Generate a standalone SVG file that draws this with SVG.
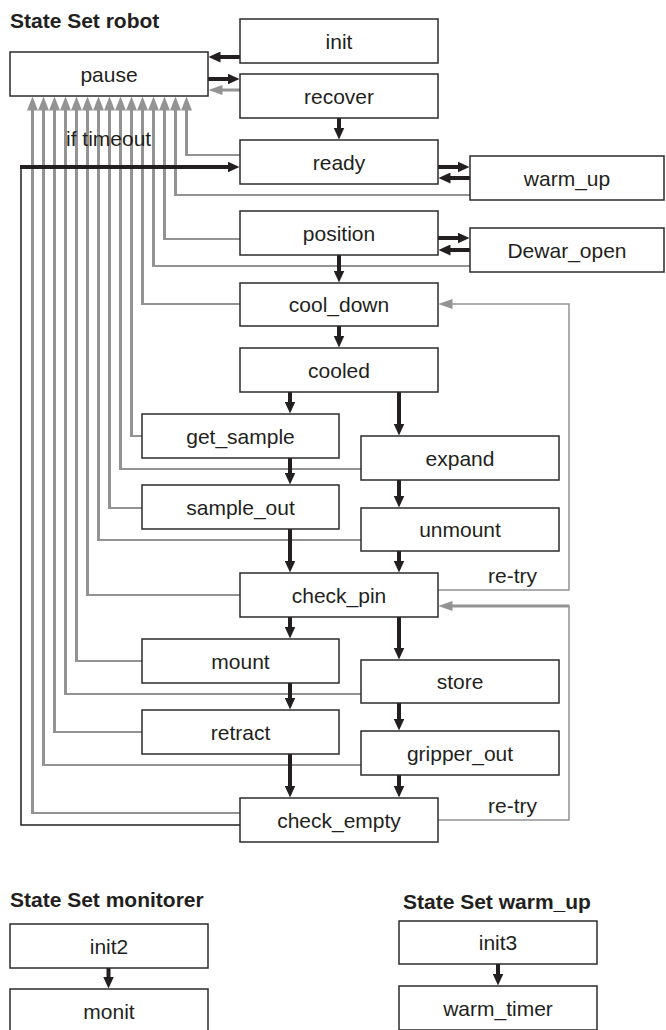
<svg xmlns="http://www.w3.org/2000/svg" width="666" height="1030" viewBox="0 0 666 1030">
<style>
.box{fill:#fff;stroke:#2b2b2b;stroke-width:1.5}
.t{font-family:"Liberation Sans",Arial,sans-serif;font-size:21px;fill:#231f20;text-anchor:middle}
.h{font-family:"Liberation Sans",Arial,sans-serif;font-size:21px;font-weight:bold;fill:#231f20}
.l{font-family:"Liberation Sans",Arial,sans-serif;font-size:21px;fill:#231f20}
.bk{fill:none;stroke:#231f20;stroke-width:4}
.bt{fill:none;stroke:#231f20;stroke-width:1.5}
.gv{fill:none;stroke:#939393;stroke-width:3}
.gh{fill:none;stroke:#939393;stroke-width:2}
</style>
<defs>
<marker id="ab" viewBox="0 0 12 11" refX="0.5" refY="5.5" markerWidth="12" markerHeight="11" markerUnits="userSpaceOnUse" orient="auto"><path d="M0,0 L12,5.5 L0,11 z" fill="#231f20"/></marker>
<marker id="ag" viewBox="0 0 14 10" refX="0.5" refY="5" markerWidth="14" markerHeight="10" markerUnits="userSpaceOnUse" orient="auto"><path d="M0,0 L14,5 L0,10 z" fill="#939393"/></marker>
<marker id="ap" viewBox="0 0 14 11" refX="0.5" refY="5.5" markerWidth="14" markerHeight="11" markerUnits="userSpaceOnUse" orient="auto"><path d="M0,0 L14,5.5 L0,11 z" fill="#939393"/></marker>
</defs>
<text class="h" x="10" y="28">State Set robot</text>
<text class="h" x="10" y="907">State Set monitorer</text>
<text class="h" x="403" y="909">State Set warm_up</text>
<g id="connectors">
<g id="to-pause">
<path class="gh" d="M240,155H186.5M470,195H175.5M240,239H164.5M470,266H153.5M240,304H142.5M142,436H131.5M361,469H120.5M142,508H109.5M361,540H98.5M240,595H87.5M142,661H76.5M361,694H65.5M142,732H54.5M361,765H43.5M240,813H32.5"/>
<path class="gv" marker-end="url(#ap)" d="M186.5,156V110"/>
<path class="gv" marker-end="url(#ap)" d="M175.5,196V110"/>
<path class="gv" marker-end="url(#ap)" d="M164.5,240V110"/>
<path class="gv" marker-end="url(#ap)" d="M153.5,267V110"/>
<path class="gv" marker-end="url(#ap)" d="M142.5,305V110"/>
<path class="gv" marker-end="url(#ap)" d="M131.5,437V110"/>
<path class="gv" marker-end="url(#ap)" d="M120.5,470V110"/>
<path class="gv" marker-end="url(#ap)" d="M109.5,509V110"/>
<path class="gv" marker-end="url(#ap)" d="M98.5,541V110"/>
<path class="gv" marker-end="url(#ap)" d="M87.5,596V110"/>
<path class="gv" marker-end="url(#ap)" d="M76.5,662V110"/>
<path class="gv" marker-end="url(#ap)" d="M65.5,695V110"/>
<path class="gv" marker-end="url(#ap)" d="M54.5,733V110"/>
<path class="gv" marker-end="url(#ap)" d="M43.5,766V110"/>
<path class="gv" marker-end="url(#ap)" d="M32.5,814V110"/>
</g>
<path class="bt" d="M240,825H21V167"/>
<path class="bk" marker-end="url(#ab)" d="M20,167H228"/>
<path class="bk" marker-end="url(#ab)" d="M240,57H220"/>
<path class="bk" marker-end="url(#ab)" d="M208,79H228"/>
<path class="gv" marker-end="url(#ag)" d="M240,90H222"/>
<path class="bk" marker-end="url(#ab)" d="M339,118V128"/>
<path class="bk" marker-end="url(#ab)" d="M438,167H458"/>
<path class="bk" marker-end="url(#ab)" d="M470,178H450"/>
<path class="bk" marker-end="url(#ab)" d="M438,238H458"/>
<path class="bk" marker-end="url(#ab)" d="M470,250H450"/>
<path class="bk" marker-end="url(#ab)" d="M339,255V271"/>
<path class="bk" marker-end="url(#ab)" d="M339,326V336"/>
<path class="bk" marker-end="url(#ab)" d="M290,392V402"/>
<path class="bk" marker-end="url(#ab)" d="M399,392V424"/>
<path class="bk" marker-end="url(#ab)" d="M290,458V473"/>
<path class="bk" marker-end="url(#ab)" d="M399,480V496"/>
<path class="bk" marker-end="url(#ab)" d="M290,529V561"/>
<path class="bk" marker-end="url(#ab)" d="M399,551V561"/>
<path class="bk" marker-end="url(#ab)" d="M290,617V627"/>
<path class="bk" marker-end="url(#ab)" d="M399,617V648"/>
<path class="bk" marker-end="url(#ab)" d="M290,683V698"/>
<path class="bk" marker-end="url(#ab)" d="M399,703V719"/>
<path class="bk" marker-end="url(#ab)" d="M290,754V786"/>
<path class="bk" marker-end="url(#ab)" d="M399,775V786"/>
<path class="gh" style="stroke-width:1.5" marker-end="url(#ag)" d="M438,590H569V304H452"/>
<path class="gh" style="stroke-width:1.5" d="M438,820H569V606"/>
<path class="gv" marker-end="url(#ag)" d="M569.5,606H452"/>
<path class="bk" marker-end="url(#ab)" d="M108.5,968V977"/>
<path class="bk" marker-end="url(#ab)" d="M498,964V974"/>
<text class="l" x="66" y="146">if timeout</text>
<text class="l" x="488" y="583">re-try</text>
<text class="l" x="488" y="813">re-try</text>
</g>
<g id="pause"><rect class="box" x="10" y="52" width="198" height="44"/><text class="t" x="109" y="81.5">pause</text></g>
<g id="init"><rect class="box" x="240" y="19" width="198" height="44"/><text class="t" x="339" y="48.5">init</text></g>
<g id="recover"><rect class="box" x="240" y="74" width="198" height="44"/><text class="t" x="339" y="103.5">recover</text></g>
<g id="ready"><rect class="box" x="240" y="140" width="198" height="44"/><text class="t" x="339" y="169.5">ready</text></g>
<g id="warm_up"><rect class="box" x="470" y="156" width="194" height="44"/><text class="t" x="567" y="185.5">warm_up</text></g>
<g id="position"><rect class="box" x="240" y="211" width="198" height="44"/><text class="t" x="339" y="240.5">position</text></g>
<g id="Dewar_open"><rect class="box" x="470" y="228" width="194" height="44"/><text class="t" x="567" y="257.5">Dewar_open</text></g>
<g id="cool_down"><rect class="box" x="240" y="283" width="198" height="43"/><text class="t" x="339" y="312">cool_down</text></g>
<g id="cooled"><rect class="box" x="240" y="348" width="198" height="44"/><text class="t" x="339" y="377.5">cooled</text></g>
<g id="get_sample"><rect class="box" x="142" y="414" width="197" height="44"/><text class="t" x="240.5" y="443.5">get_sample</text></g>
<g id="expand"><rect class="box" x="361" y="436" width="198" height="44"/><text class="t" x="460" y="465.5">expand</text></g>
<g id="sample_out"><rect class="box" x="142" y="485" width="197" height="44"/><text class="t" x="240.5" y="514.5">sample_out</text></g>
<g id="unmount"><rect class="box" x="361" y="508" width="198" height="43"/><text class="t" x="460" y="537">unmount</text></g>
<g id="check_pin"><rect class="box" x="240" y="573" width="198" height="44"/><text class="t" x="339" y="602.5">check_pin</text></g>
<g id="mount"><rect class="box" x="142" y="639" width="197" height="44"/><text class="t" x="240.5" y="668.5">mount</text></g>
<g id="store"><rect class="box" x="361" y="660" width="198" height="43"/><text class="t" x="460" y="689">store</text></g>
<g id="retract"><rect class="box" x="142" y="710" width="197" height="44"/><text class="t" x="240.5" y="739.5">retract</text></g>
<g id="gripper_out"><rect class="box" x="361" y="731" width="198" height="44"/><text class="t" x="460" y="760.5">gripper_out</text></g>
<g id="check_empty"><rect class="box" x="240" y="798" width="198" height="44"/><text class="t" x="339" y="827.5">check_empty</text></g>
<g id="init2"><rect class="box" x="10" y="924" width="198" height="44"/><text class="t" x="109" y="953.5">init2</text></g>
<g id="monit"><rect class="box" x="10" y="989" width="198" height="44"/><text class="t" x="109" y="1018.5">monit</text></g>
<g id="init3"><rect class="box" x="399" y="921" width="198" height="43"/><text class="t" x="498" y="950">init3</text></g>
<g id="warm_timer"><rect class="box" x="399" y="986" width="198" height="44"/><text class="t" x="498" y="1015.5">warm_timer</text></g>
</svg>
